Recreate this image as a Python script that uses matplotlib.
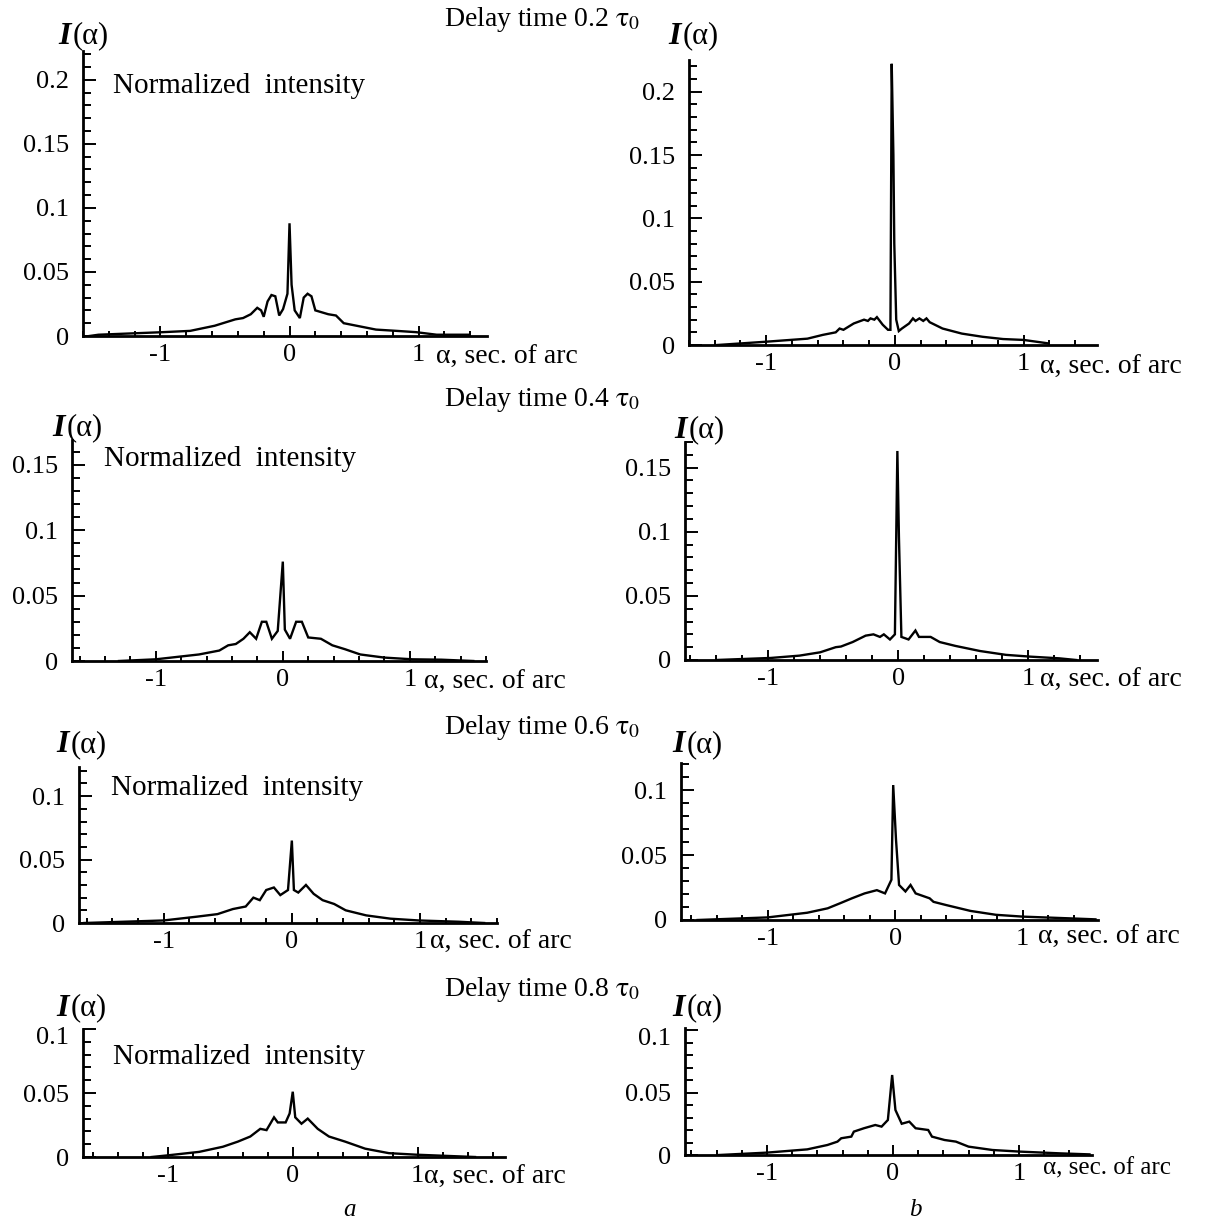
import matplotlib
matplotlib.use("Agg")
import matplotlib.pyplot as plt
from matplotlib.ticker import MultipleLocator, FuncFormatter
from matplotlib.transforms import ScaledTranslation

plt.rcParams['font.family'] = ['Liberation Serif', 'DejaVu Serif']
plt.rcParams['mathtext.fontset'] = 'stix'

W, H = 1227, 1221

# ---------------- data ----------------
delay_labels = ["0.2", "0.4", "0.6", "0.8"]

# column a
a1_x = [-1.55, -1.48, -0.98, -0.77, -0.58, -0.42, -0.36, -0.30, -0.25, -0.22, -0.20, -0.17, -0.14, -0.11,
        -0.08, -0.05, -0.016, 0.0, 0.016, 0.04, 0.08, 0.11, 0.14, 0.17, 0.20, 0.30, 0.36, 0.42, 0.52,
        0.67, 0.83, 0.98, 1.14, 1.39]
a1_y = [0.0, 0.001, 0.003, 0.004, 0.008, 0.013, 0.014, 0.017, 0.022, 0.020, 0.015, 0.027, 0.032, 0.031,
        0.016, 0.021, 0.033, 0.088, 0.040, 0.020, 0.014, 0.030, 0.033, 0.031, 0.020, 0.017, 0.016, 0.010,
        0.008, 0.005, 0.004, 0.003, 0.001, 0.001]

a2_x = [-1.29, -1.0, -0.66, -0.50, -0.43, -0.37, -0.31, -0.26, -0.21, -0.165, -0.13, -0.086, -0.04, 0.0,
        0.016, 0.057, 0.105, 0.15, 0.20, 0.30, 0.39, 0.49, 0.61, 0.80, 1.02, 1.25, 1.50]
a2_y = [0.0, 0.0013, 0.005, 0.008, 0.012, 0.013, 0.017, 0.022, 0.017, 0.030, 0.030, 0.017, 0.023, 0.076,
        0.024, 0.017, 0.030, 0.030, 0.018, 0.017, 0.012, 0.009, 0.005, 0.0026, 0.0013, 0.001, 0.0]

a3_x = [-1.62, -1.0, -0.74, -0.58, -0.46, -0.36, -0.30, -0.25, -0.20, -0.14, -0.09, -0.03, 0.0, 0.016,
        0.05, 0.11, 0.17, 0.24, 0.33, 0.42, 0.58, 0.77, 0.99, 1.30, 1.50]
a3_y = [0.0, 0.002, 0.005, 0.007, 0.011, 0.013, 0.020, 0.018, 0.026, 0.028, 0.022, 0.026, 0.065, 0.026,
        0.024, 0.030, 0.023, 0.018, 0.015, 0.010, 0.006, 0.0034, 0.002, 0.001, 0.0]

a4_x = [-1.13, -1.0, -0.75, -0.56, -0.44, -0.34, -0.26, -0.21, -0.15, -0.12, -0.057, -0.025, 0.0, 0.02,
        0.07, 0.12, 0.20, 0.29, 0.42, 0.58, 0.77, 0.99, 1.46]
a4_y = [0.0, 0.0013, 0.004, 0.008, 0.012, 0.016, 0.022, 0.021, 0.031, 0.027, 0.027, 0.034, 0.051, 0.031,
        0.026, 0.030, 0.022, 0.016, 0.012, 0.0065, 0.003, 0.0018, 0.0]

# column b
b1_x = [-1.38, -1.0, -0.68, -0.56, -0.46, -0.43, -0.40, -0.32, -0.24, -0.21, -0.19, -0.16, -0.14, -0.095,
        -0.054, -0.035, -0.025, -0.012, -0.005, 0.01, 0.03, 0.054, 0.11, 0.14, 0.16, 0.19, 0.22, 0.245,
        0.27, 0.37, 0.52, 0.68, 0.84, 1.0, 1.19]
b1_y = [0.0, 0.0026, 0.005, 0.008, 0.010, 0.013, 0.012, 0.017, 0.020, 0.019, 0.021, 0.020, 0.022, 0.016,
        0.012, 0.012, 0.222, 0.150, 0.080, 0.020, 0.011, 0.013, 0.017, 0.021, 0.019, 0.021, 0.019, 0.021,
        0.018, 0.013, 0.009, 0.0065, 0.0047, 0.004, 0.0013]

b2_x = [-1.40, -0.98, -0.76, -0.60, -0.48, -0.44, -0.35, -0.25, -0.19, -0.14, -0.11, -0.063, -0.025,
        -0.006, 0.006, 0.025, 0.08, 0.133, 0.16, 0.25, 0.32, 0.44, 0.63, 0.83, 1.02, 1.24, 1.37]
b2_y = [0.0, 0.0016, 0.0034, 0.006, 0.010, 0.0105, 0.014, 0.019, 0.020, 0.018, 0.020, 0.016, 0.020,
        0.163, 0.096, 0.018, 0.016, 0.023, 0.018, 0.018, 0.014, 0.011, 0.007, 0.004, 0.0026, 0.0013, 0.0]

b3_x = [-1.55, -1.0, -0.69, -0.53, -0.43, -0.34, -0.24, -0.144, -0.08, -0.03, -0.016, 0.006, 0.03, 0.08,
        0.12, 0.16, 0.27, 0.30, 0.40, 0.59, 0.79, 1.0, 1.36, 1.57]
b3_y = [0.0, 0.002, 0.0056, 0.009, 0.013, 0.0167, 0.0205, 0.023, 0.0205, 0.031, 0.104, 0.062, 0.027,
        0.022, 0.027, 0.0205, 0.0167, 0.014, 0.0115, 0.007, 0.004, 0.0026, 0.0013, 0.0005]

b4_x = [-1.38, -1.0, -0.68, -0.52, -0.44, -0.41, -0.33, -0.31, -0.23, -0.14, -0.09, -0.04, -0.006, 0.02,
        0.07, 0.13, 0.18, 0.28, 0.31, 0.41, 0.50, 0.60, 0.79, 1.01, 1.33, 1.56]
b4_y = [0.0, 0.0019, 0.0045, 0.008, 0.0107, 0.0134, 0.0147, 0.0187, 0.0214, 0.024, 0.0227, 0.028, 0.064,
        0.036, 0.025, 0.0267, 0.0214, 0.020, 0.0147, 0.012, 0.0107, 0.0067, 0.004, 0.0027, 0.0013, 0.0005]

series = [(a1_x, a1_y), (b1_x, b1_y), (a2_x, a2_y), (b2_x, b2_y),
          (a3_x, a3_y), (b3_x, b3_y), (a4_x, a4_y), (b4_x, b4_y)]

# ---------------- layout (pixels) ----------------
# (left px, right px, zero-line px, top px, xlim, ylim)
panels = [
    (83, 487, 336, 51, (-1.6, 1.53), (0, 0.2225)),
    (689, 1097, 345, 60, (-1.6, 1.57), (0, 0.225)),
    (72, 486, 661, 440, (-1.66, 1.6), (0, 0.169)),
    (685, 1097, 660, 442, (-1.64, 1.53), (0, 0.17)),
    (79, 497, 923, 767, (-1.66, 1.6), (0, 0.123)),
    (681, 1098, 920, 763, (-1.68, 1.59), (0, 0.121)),
    (83, 505, 1157, 1029, (-1.68, 1.7), (0, 0.1)),
    (685, 1092, 1155, 1028, (-1.65, 1.58), (0, 0.1016)),
]

fig = plt.figure(figsize=(W / 100, H / 100), dpi=100)


def fx(px):
    return px / W


def fy(py):
    return 1 - py / H


fmt = FuncFormatter(lambda v, p: ("%g" % round(v, 4)))

axes = []
for (l, r, y0, yt, xl, yl), (xs, ys) in zip(panels, series):
    ax = fig.add_axes([fx(l), fy(y0), (r - l) / W, (y0 - yt) / H])
    ax.plot(xs, ys, color='black', lw=1.7, solid_joinstyle='miter')
    ax.set_xlim(*xl)
    ax.set_ylim(*yl)
    for s in ('top', 'right'):
        ax.spines[s].set_visible(False)
    for s in ('left', 'bottom'):
        ax.spines[s].set_linewidth(2.0)
    ax.set_xticks([-1, 0, 1])
    ax.set_xticklabels(['-1', '0', '1'])
    ax.xaxis.set_minor_locator(MultipleLocator(0.2))
    ax.yaxis.set_major_locator(MultipleLocator(0.05))
    ax.yaxis.set_minor_locator(MultipleLocator(0.01))
    ax.yaxis.set_major_formatter(fmt)
    ax.tick_params(axis='x', which='major', direction='in', length=7, width=1.4, pad=6, labelsize=19)
    ax.tick_params(axis='x', which='minor', direction='in', length=3.8, width=1.4)
    ax.tick_params(axis='y', which='major', direction='in', length=9, width=1.4, pad=10, labelsize=19)
    ax.tick_params(axis='y', which='minor', direction='in', length=5.5, width=1.4)
    ax.set_facecolor('none')
    axes.append(ax)

# in the last row the "0.1" label sits a little below the top tick
fig.canvas.draw()
for ax in axes[6:]:
    for lbl in ax.get_yticklabels():
        if lbl.get_text() == '0.1':
            lbl.set_transform(lbl.get_transform() + ScaledTranslation(0, -5 / 72, fig.dpi_scale_trans))

# titles
for lab, py in zip(delay_labels, [20, 400, 728, 990]):
    fig.text(fx(542), fy(py), "Delay time " + lab + r" $\mathrm{\tau}_0$", ha='center', va='center',
             fontsize=20)

# "Normalized intensity"
for px, py in [(113, 86), (104, 459), (111, 788), (113, 1057)]:
    fig.text(fx(px), fy(py), "Normalized  intensity", ha='left', va='center', fontsize=21)

# x-axis labels
for px, py, fs in [(436, 357, 20), (1040, 367, 20), (424, 682, 20), (1040, 680, 20),
                   (430, 942, 20), (1038, 937, 20), (424, 1177, 20), (1043, 1168, 18)]:
    fig.text(fx(px), fy(py), "α, sec. of arc", ha='left', va='center', fontsize=fs)

# y-axis labels I(alpha)
for px, py in [(58, 36), (668, 36), (52, 428), (674, 430), (56, 745), (672, 745), (56, 1008), (672, 1008)]:
    fig.text(fx(px), fy(py), "I", ha='left', va='center', fontsize=23, fontweight='bold', fontstyle='italic')
    fig.text(fx(px + 15), fy(py), "(α)", ha='left', va='center', fontsize=22)

fig.text(fx(350), fy(1210), "a", ha='center', va='center', fontsize=18, fontstyle='italic')
fig.text(fx(915), fy(1210), "b", ha='center', va='center', fontsize=18, fontstyle='italic')

fig.savefig("out.png", dpi=100, facecolor='white')
